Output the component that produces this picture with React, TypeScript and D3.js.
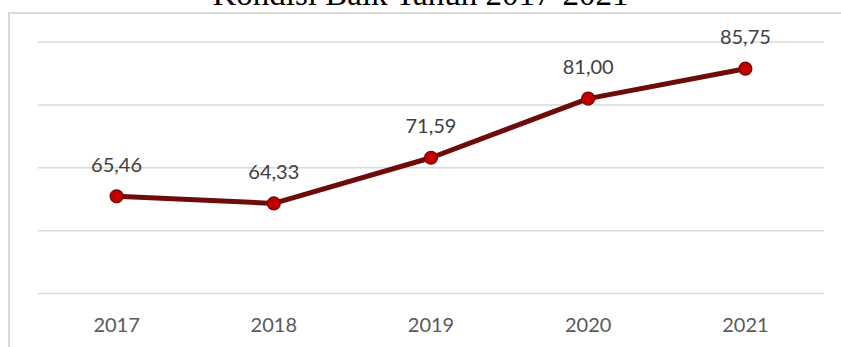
import React from "react";
import * as d3 from "d3";

const TITLE = "Kondisi Baik Tahun 2017-2021";
const years = ["2017", "2018", "2019", "2020", "2021"];
const values = [65.46, 64.33, 71.59, 81.0, 85.75];
const yTicks = [50, 60, 70, 80, 90];

const W = 841;
const H = 347;

export default function App() {
  const x = d3.scaleBand<string>().domain(years).range([38, 824]).padding(0);
  const y = d3.scaleLinear().domain([50, 90]).range([293.5, 42]);
  const cx = (yr: string) => (x(yr) as number) + x.bandwidth() / 2;
  const data = years.map((yr, i) => ({ yr, v: values[i] }));
  const line = d3
    .line<{ yr: string; v: number }>()
    .x((d) => cx(d.yr))
    .y((d) => y(d.v));
  const fmt = (v: number) => v.toFixed(2).replace(".", ",");

  return (
    <svg
      width={W}
      height={H}
      style={{ position: "absolute", left: 0, top: 0, background: "#fff" }}
    >
      {/* chart area border */}
      <rect x={9} y={13} width={W + 20} height={H + 20} fill="none" stroke="#d9d9d9" strokeWidth={2} />
      {/* title (clipped at top) */}
      <text
        x={420.5}
        y={5}
        textAnchor="middle"
        fontFamily="'Liberation Serif', 'Times New Roman', serif"
        fontSize={33}
        fill="#000"
      >
        {TITLE}
      </text>
      {/* gridlines */}
      {yTicks.map((t) => (
        <line key={t} x1={38} x2={824} y1={y(t)} y2={y(t)} stroke="#d9d9d9" strokeWidth={1.5} />
      ))}
      {/* x labels */}
      {years.map((yr) => (
        <text
          key={yr}
          x={cx(yr)}
          y={332}
          textAnchor="middle"
          fontFamily="Lato, 'Open Sans', sans-serif"
          fontSize={20}
          fill="#595959"
        >
          {yr}
        </text>
      ))}
      {/* line */}
      <path d={line(data) || ""} fill="none" stroke="#6e0b0b" strokeWidth={5} strokeLinejoin="round" />
      {/* markers */}
      {data.map((d) => (
        <circle key={d.yr} cx={cx(d.yr)} cy={y(d.v)} r={6.5} fill="#c00000" stroke="#7a0000" strokeWidth={1.2} />
      ))}
      {/* data labels */}
      {data.map((d) => (
        <text
          key={"l" + d.yr}
          x={cx(d.yr)}
          y={y(d.v) - 24.5}
          textAnchor="middle"
          fontFamily="Lato, 'Open Sans', sans-serif"
          fontSize={20}
          fill="#404040"
        >
          {fmt(d.v)}
        </text>
      ))}
    </svg>
  );
}
